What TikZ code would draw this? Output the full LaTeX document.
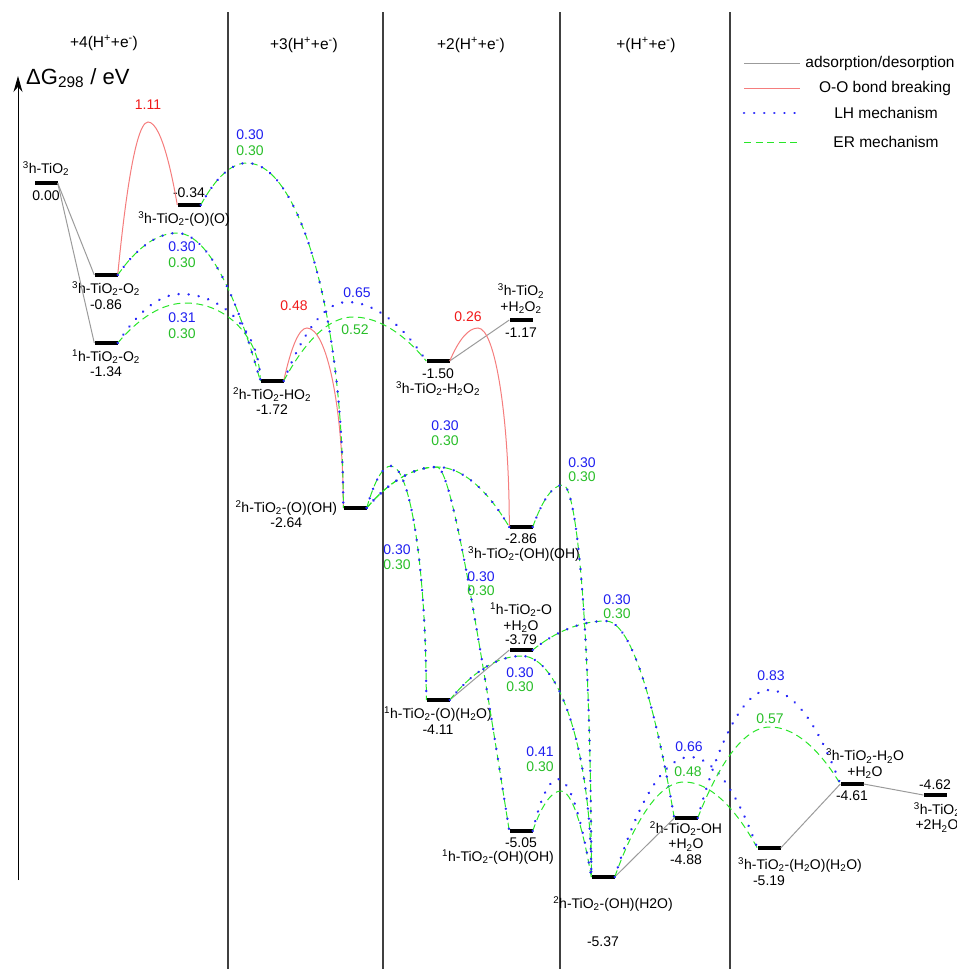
\documentclass[tikz,border=0pt]{standalone}
\usepackage{fontspec}
\setmainfont{Liberation Sans}
\usetikzlibrary{arrows.meta, positioning, calc}
\definecolor{lhblue}{RGB}{40,40,250}
\definecolor{ergreen}{RGB}{40,230,40}
\definecolor{oored}{RGB}{245,125,125}
\definecolor{adsgray}{RGB}{155,155,155}
\definecolor{txtblue}{RGB}{30,30,240}
\definecolor{txtgreen}{RGB}{40,190,40}
\definecolor{txtred}{RGB}{240,25,25}
\newcommand{\tio}[1]{\textsuperscript{#1}h-TiO\textsubscript{2}}
\newcommand{\hho}{H\textsubscript{2}O}
\tikzset{
  lvl/.style  = {rectangle, fill=black, inner sep=0pt,
                 minimum width=23pt, minimum height=4pt},
  lab/.style  = {inner sep=1pt, align=center,
                 font=\fontsize{14}{15.5}\selectfont},
  key/.style  = {inner sep=1pt, font=\fontsize{15.5}{18}\selectfont},
  blab/.style = {lab, text=txtblue},
  glab/.style = {lab, text=txtgreen},
  rlab/.style = {lab, text=txtred},
  ads/.style  = {draw=adsgray, line width=1pt},
  oo/.style   = {draw=oored, line width=1pt},
  lh/.style   = {draw=lhblue, line width=2.6pt, line cap=round,
                 dash pattern=on 0.1pt off 10pt},
  er/.style   = {draw=ergreen, line width=1pt, dash pattern=on 7pt off 4.5pt},
  hump/.style = {to path={parabola bend (#1) (\tikztotarget)}},
  drop/.style = {to path={let \p1=(\tikztostart), \p2=(#1), \p3=(\tikztotarget) in
      .. controls ({\x1+(\x2-\x1)/3},{\y1+2*(\y2-\y1)/3})
             and ({\x1+2*(\x2-\x1)/3},\y2) .. (\p2)
      .. controls ({\x2+0.55*(\x3-\x2)},\y2)
             and (\x3,{\y3+0.55*(\y2-\y3)}) .. (\p3)}},
}
\begin{document}
\begin{tikzpicture}[x=1pt, y=-1pt]
  \useasboundingbox (0,0) rectangle (956,969);
  % columns and axis
  \foreach \x in {228,383,560,730}
    \draw[line width=1.1pt, black!75] (\x,12) -- (\x,969);
  \coordinate (ax0) at (18,880);
  \coordinate (ax1) at (18,76);
  \draw[line width=0.9pt, -{Stealth[length=16pt, width=9pt]}] (ax0) -- (ax1);
  \node[inner sep=0pt, anchor=west, font=\fontsize{22}{26}\selectfont] (dg) at (26,78)
    {ΔG\textsubscript{298} / eV};
  \node[key] (h4) at (104,43) {+4(H\textsuperscript{+}+e\textsuperscript{-})};
  \node[key] (h3) at (304,45) {+3(H\textsuperscript{+}+e\textsuperscript{-})};
  \node[key] (h2) at (471,45) {+2(H\textsuperscript{+}+e\textsuperscript{-})};
  \node[key] (h1) at (646,45) {+(H\textsuperscript{+}+e\textsuperscript{-})};

  % legend
  \draw[ads] (744,63) -- (800,63);
  \draw[oo]  (744,88) -- (800,88);
  \draw[lh]  (744,113) -- (800,113);
  \draw[er]  (744,142) -- (800,142);
  \node[key] (k1) at (880,63)  {adsorption/desorption};
  \node[key] (k2) at (885,88)  {O-O bond breaking};
  \node[key] (k3) at (886,113) {LH mechanism};
  \node[key] (k4) at (886,142) {ER mechanism};

  % levels
  \node[lvl] (b0)  at (46,183)  {};
  \node[lvl] (b1)  at (106,275) {};
  \node[lvl] (b2)  at (106,343) {};
  \node[lvl] (b3)  at (189,205) {};
  \node[lvl] (b4)  at (272,381) {};
  \node[lvl] (b5)  at (355,508) {};
  \node[lvl] (b6)  at (438,361) {};
  \node[lvl] (b7)  at (521,320) {};
  \node[lvl] (b8)  at (521,527) {};
  \node[lvl] (b9)  at (521,650) {};
  \node[lvl] (b10) at (438,700) {};
  \node[lvl] (b11) at (521,831) {};
  \node[lvl] (b12) at (603,877) {};
  \node[lvl] (b13) at (686,818) {};
  \node[lvl] (b14) at (769,848) {};
  \node[lvl] (b15) at (852,784) {};
  \node[lvl] (b16) at (935,795) {};

  % level labels
  \node[lab, above=4pt of b0] (n0) {\tio{3}};
  \node[lab, below=4pt of b0] (v0) {0.00};
  \node[lab, below=3pt of b1] (n1) {\tio{3}-O\textsubscript{2}};
  \node[lab, below=2pt of n1] (v1) {-0.86};
  \node[lab, below=3pt of b2] (n2) {\tio{1}-O\textsubscript{2}};
  \node[lab, below=1pt of n2] (v2) {-1.34};
  \node[lab, above=4pt of b3] (v3) {-0.34};
  \node[lab, below=3pt of b3, xshift=-5pt] (n3) {\tio{3}-(O)(O)};
  \node[lab, below=3pt of b4] (n4) {\tio{2}-HO\textsubscript{2}};
  \node[lab, below=1pt of n4] (v4) {-1.72};
  \node[lab, left=5pt of b5] (n5) {\tio{2}-(O)(OH)};
  \node[lab, below=0pt of n5] (v5) {-2.64};
  \node[lab, below=4pt of b6] (v6) {-1.50};
  \node[lab, below=1pt of v6] (n6) {\tio{3}-H\textsubscript{2}O\textsubscript{2}};
  \node[lab, above=3pt of b7] (n7) {\tio{3}\\+H\textsubscript{2}O\textsubscript{2}};
  \node[lab, below=4pt of b7] (v7) {-1.17};
  \node[lab, below=3pt of b8] (v8) {-2.86};
  \node[lab, below=1pt of v8, xshift=3pt] (n8) {\tio{3}-(OH)(OH)};
  \node[lab, above=2pt of b9] (v9) {-3.79};
  \node[lab, above=0pt of v9] (n9) {\tio{1}-O\\+\hho};
  \node[lab, below=3pt of b10] (n10) {\tio{1}-(O)(\hho)};
  \node[lab, below=1pt of n10] (v10) {-4.11};
  \node[lab, below=3pt of b11] (v11) {-5.05};
  \node[lab, below=0pt of v11, xshift=-23pt] (n11) {\tio{1}-(OH)(OH)};
  \node[lab, below=16pt of b12, xshift=10pt] (n12) {\tio{2}-(OH)(H2O)};
  \node[lab, below=23pt of n12, xshift=-10pt] (v12) {-5.37};
  \node[lab, below=0pt of b13] (n13) {\tio{2}-OH\\+\hho\\-4.88};
  \node[lab, below=6pt of b14, xshift=31pt] (n14) {\tio{3}-(\hho)(\hho)};
  \node[lab, below=1pt of n14, xshift=-31pt] (v14) {-5.19};
  \node[lab, above=2pt of b15, xshift=13pt] (n15) {\tio{3}-\hho\\+\hho};
  \node[lab, below=3pt of b15] (v15) {-4.61};
  \node[lab, above=2pt of b16] (v16) {-4.62};
  \node[lab, below=4pt of b16, xshift=2pt] (n16) {\tio{3}\\+2\hho};

  % barrier tops
  \coordinate (t1)  at (148,122);
  \coordinate (t2)  at (247,163);
  \coordinate (t3)  at (177,233);
  \coordinate (t4b) at (181,294);
  \coordinate (t4g) at (186,303);
  \coordinate (t5)  at (307,328);
  \coordinate (t6b) at (347,302);
  \coordinate (t6g) at (353,317);
  \coordinate (t7)  at (478,328);
  \coordinate (t8)  at (391,466);
  \coordinate (t9)  at (437,467);
  \coordinate (t10) at (563,485);
  \coordinate (t11) at (606,621);
  \coordinate (t12) at (522,656);
  \coordinate (t13b) at (558,779);
  \coordinate (t13g) at (561,791);
  \coordinate (t14b) at (690,757);
  \coordinate (t14g) at (684,782);
  \coordinate (t15b) at (769,690);
  \coordinate (t15g) at (770,727);

  % adsorption/desorption
  \draw[ads] (b0.east) -- (b1.west);
  \draw[ads] (b0.east) -- (b2.west);
  \draw[ads] (b6.east) -- (b7.west);
  \draw[ads] (b10.east) -- (b9.west);
  \draw[ads] (b12.east) -- (b13.west);
  \draw[ads] (b14.east) -- (b15.west);
  \draw[ads] (b15.east) -- (b16.west);

  % O-O bond breaking
  \draw[oo] (b1.east) to[hump=t1] (b3.west);
  \draw[oo] (b4.east) to[drop=t5] (b5.west);
  \draw[oo] (b6.east) to[drop=t7] (b8.west);

  % H steps, same barrier for LH and ER
  \foreach \s in {er,lh} {
    \draw[\s] (b3.east) to[drop=t2] (b5.west);
    \draw[\s] (b1.east) to[hump=t3] (b4.west);
    \draw[\s] (b5.east) to[drop=t8] (b10.west);
    \draw[\s] (b5.east) to[hump=t9] (b8.west);
    \draw[\s] (b5.east) parabola[bend at end] (t9)
      .. controls +(15,0) and +(-30,-190) .. (b11.west);
    \draw[\s] (b8.east) to[drop=t10] (b12.west);
    \draw[\s] (b9.east) to[hump=t11] (b13.west);
    \draw[\s] (b10.east) to[drop=t12] (b12.west);
  }
  % H steps, different barriers
  \draw[er] (b2.east) to[drop=t4g] (b4.west);
  \draw[lh] (b2.east) to[drop=t4b] (b4.west);
  \draw[er] (b4.east) to[hump=t6g] (b6.west);
  \draw[lh] (b4.east) to[hump=t6b] (b6.west);
  \draw[er] (b11.east) to[hump=t13g] (b12.west);
  \draw[lh] (b11.east) to[hump=t13b] (b12.west);
  \draw[er] (b12.east) to[hump=t14g] (b14.west);
  \draw[lh] (b12.east) to[hump=t14b] (b14.west);
  \draw[er] (b13.east) to[hump=t15g] (b15.west);
  \draw[lh] (b13.east) to[hump=t15b] (b15.west);

  % barrier values
  \node[rlab] (e1) at (148,105) {1.11};
  \node[blab] (e2b) at (250,135) {0.30};
  \node[glab] (e2g) at (250,151) {0.30};
  \node[blab] (e3b) at (182,247) {0.30};
  \node[glab] (e3g) at (182,263) {0.30};
  \node[blab] (e4b) at (182,318) {0.31};
  \node[glab] (e4g) at (182,334) {0.30};
  \node[rlab] (e5) at (294,306) {0.48};
  \node[blab] (e6b) at (357,293) {0.65};
  \node[glab] (e6g) at (355,330) {0.52};
  \node[rlab] (e7) at (468,317) {0.26};
  \node[blab] (e8b) at (397,550) {0.30};
  \node[glab] (e8g) at (397,565) {0.30};
  \node[blab] (e9b) at (445,426) {0.30};
  \node[glab] (e9g) at (445,441) {0.30};
  \node[blab] (e10b) at (481,577) {0.30};
  \node[glab] (e10g) at (481,591) {0.30};
  \node[blab] (e11b) at (582,463) {0.30};
  \node[glab] (e11g) at (582,477) {0.30};
  \node[blab] (e12b) at (617,600) {0.30};
  \node[glab] (e12g) at (617,614) {0.30};
  \node[blab] (e13b) at (520,673) {0.30};
  \node[glab] (e13g) at (520,687) {0.30};
  \node[blab] (e14b) at (540,752) {0.41};
  \node[glab] (e14g) at (540,767) {0.30};
  \node[blab] (e15b) at (689,747) {0.66};
  \node[glab] (e15g) at (688,772) {0.48};
  \node[blab] (e16b) at (771,676) {0.83};
  \node[glab] (e16g) at (770,719) {0.57};
\end{tikzpicture}
\end{document}
